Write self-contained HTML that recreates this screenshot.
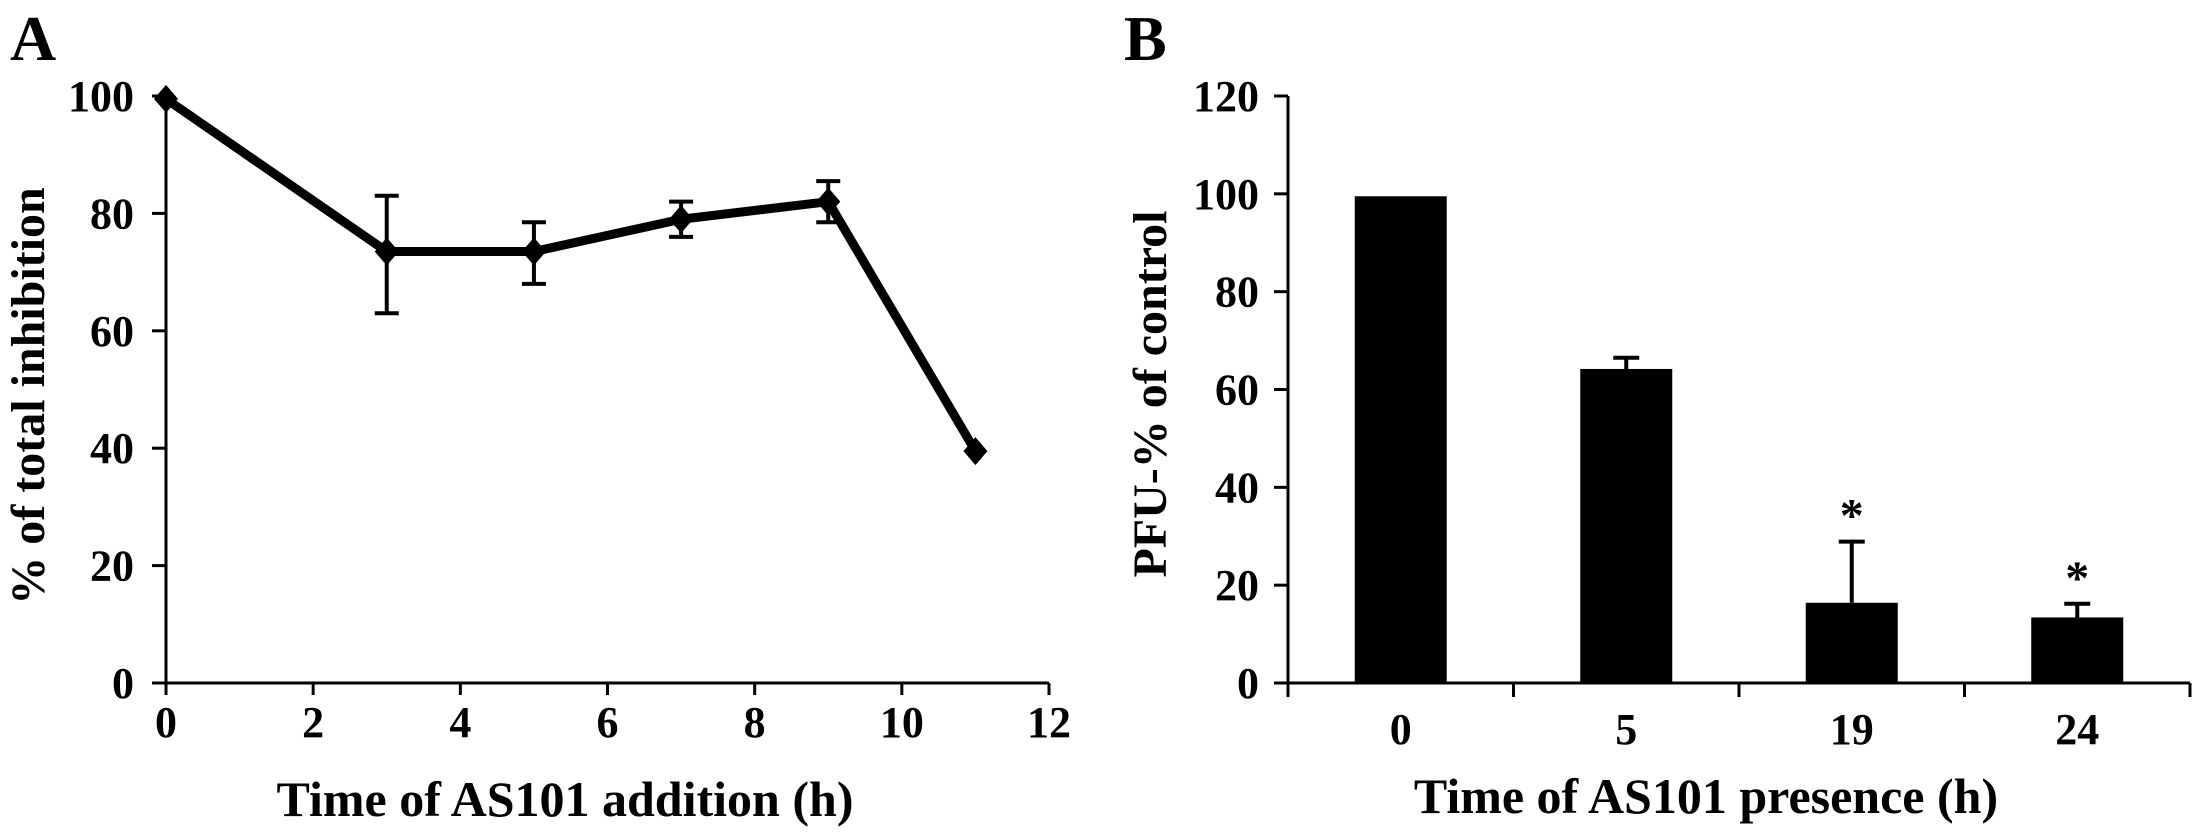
<!DOCTYPE html>
<html><head><meta charset="utf-8"><style>
html,body{margin:0;padding:0;background:#fff;}
svg{display:block;font-family:"Liberation Serif",serif;font-weight:bold;}
</style></head><body>
<svg id="fig" width="2205" height="840" viewBox="0 0 2205 840" xmlns="http://www.w3.org/2000/svg">
<text x="10" y="60" font-size="64">A</text>
<text x="1124" y="60" font-size="64">B</text>
<g id="pa"></g>
<g id="pb"></g>
<text transform="translate(44,396) rotate(-90)" text-anchor="middle" font-size="48">% of total inhibition</text>
<text x="565" y="816" text-anchor="middle" font-size="50">Time of AS101 addition (h)</text>
<text transform="translate(1166,394) rotate(-90)" text-anchor="middle" font-size="48">PFU-% of control</text>
<text x="1706" y="813" text-anchor="middle" font-size="50">Time of AS101 presence (h)</text>
</svg>
<script>
const aX = [0, 3, 5, 7, 9, 11];
const aY = [99.5, 73.5, 73.5, 79, 82, 39.5];
const aErrLow = [99.5, 63, 68, 76, 78.5, 39.5];
const aErrHigh = [99.5, 83, 78.5, 82, 85.5, 39.5];
const aXTicks = [0, 2, 4, 6, 8, 10, 12];
const aYTicks = [0, 20, 40, 60, 80, 100];

const bCats = ["0", "5", "19", "24"];
const bVals = [99.5, 64.2, 16.4, 13.4];
const bErr = [0, 2.3, 12.5, 2.8];
const bSig = [false, false, true, true];
const bYTicks = [0, 20, 40, 60, 80, 100, 120];

const NS = "http://www.w3.org/2000/svg";
function mk(parent, tag, attrs, txt){
  const e = document.createElementNS(NS, tag);
  for (const k in attrs) e.setAttribute(k, attrs[k]);
  if (txt !== undefined) e.textContent = txt;
  parent.appendChild(e);
  return e;
}
// Panel A
const ax0 = 166, ax1 = 1049, ay0 = 683, ay100 = 96;
const xA = v => ax0 + (v - 0) / 12 * (ax1 - ax0);
const yA = v => ay0 - v / 100 * (ay0 - ay100);
const pa = document.getElementById('pa');
let e;
e = mk(pa, 'line', {x1: ax0, y1: ay0, x2: ax0, y2: yA(100), stroke: '#000', 'stroke-width': 3});


e = mk(pa, 'line', {x1: ax0 - 14, y1: ay0, x2: ax1, y2: ay0, stroke: '#000', 'stroke-width': 3});


aYTicks.forEach(t => {
  e = mk(pa, 'line', {x1: ax0 - 14, y1: yA(t), x2: ax0, y2: yA(t), stroke: '#000', 'stroke-width': 3});
  
  
  e = mk(pa, 'text', {x: 134, y: yA(t) + 15, 'text-anchor': 'end', 'font-size': 44}, String(t));
  
  
});
aXTicks.forEach(t => {
  e = mk(pa, 'line', {x1: xA(t), y1: ay0, x2: xA(t), y2: ay0 + 12, stroke: '#000', 'stroke-width': 3});
  
  
  e = mk(pa, 'text', {x: xA(t), y: ay0 + 54, 'text-anchor': 'middle', 'font-size': 44}, String(t));
  
  
});
aX.forEach((x, i) => {
  if (aErrHigh[i] === aErrLow[i]) return;
  const cx = xA(x);
  e = mk(pa, 'path', {d: `M${cx},${yA(aErrLow[i])}V${yA(aErrHigh[i])}M${cx-12},${yA(aErrLow[i])}H${cx+12}M${cx-12},${yA(aErrHigh[i])}H${cx+12}`, stroke: '#000', 'stroke-width': 4, fill: 'none'});
  
  
});
e = mk(pa, 'polyline', {points: aX.map((x, i) => xA(x) + ',' + yA(aY[i])).join(' '), fill: 'none', stroke: '#000', 'stroke-width': 9, 'stroke-linejoin': 'round'});


aX.forEach((x, i) => {
  const cx = xA(x), cy = yA(aY[i]);
  e = mk(pa, 'path', {d: `M${cx},${cy-14}L${cx+12},${cy}L${cx},${cy+14}L${cx-12},${cy}Z`, fill: '#000'});
  
  
});
// Panel B
const bx0 = 1288, bx1 = 2190, by0 = 683, by120 = 96;
const slot = (bx1 - bx0) / bCats.length;
const yB = v => by0 - v / 120 * (by0 - by120);
const xB = i => bx0 + slot * (i + 0.5);
const pb = document.getElementById('pb');
e = mk(pb, 'line', {x1: bx0, y1: by0 + 14, x2: bx0, y2: yB(120), stroke: '#000', 'stroke-width': 3});


e = mk(pb, 'line', {x1: bx0 - 14, y1: by0, x2: bx1, y2: by0, stroke: '#000', 'stroke-width': 3});


bYTicks.forEach(t => {
  e = mk(pb, 'line', {x1: bx0 - 14, y1: yB(t), x2: bx0, y2: yB(t), stroke: '#000', 'stroke-width': 3});
  
  
  e = mk(pb, 'text', {x: 1259, y: yB(t) + 15, 'text-anchor': 'end', 'font-size': 44}, String(t));
  
  
});
for (let i = 1; i <= bCats.length; i++) {
  e = mk(pb, 'line', {x1: bx0 + slot * i, y1: by0, x2: bx0 + slot * i, y2: by0 + 14, stroke: '#000', 'stroke-width': 3});
  
  
}
const bw = 92;
bCats.forEach((c, i) => {
  const cx = xB(i);
  if (bErr[i] > 0) {
    e = mk(pb, 'path', {d: `M${cx},${yB(bVals[i])}V${yB(bVals[i]+bErr[i])}M${cx-13},${yB(bVals[i]+bErr[i])}H${cx+13}`, stroke: '#000', 'stroke-width': 4, fill: 'none'});
    
    
  }
  e = mk(pb, 'rect', {x: cx - bw / 2, y: yB(bVals[i]), width: bw, height: by0 - yB(bVals[i]), fill: '#000'});
  
  
  e = mk(pb, 'text', {x: cx, y: by0 + 61, 'text-anchor': 'middle', 'font-size': 44}, c);
  
  
  if (bSig[i]) {
    e = mk(pb, 'text', {x: cx, y: yB(bVals[i] + bErr[i]) - 10, 'text-anchor': 'middle', 'font-size': 48}, '*');
    
    
  }
});
</script>
</body></html>
